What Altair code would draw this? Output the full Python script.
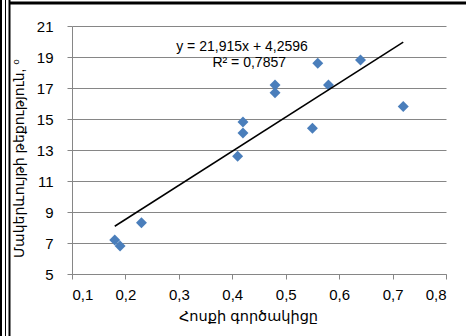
import altair as alt
import pandas as pd

flow_coef = [0.18, 0.19, 0.23, 0.41, 0.42, 0.42, 0.48, 0.48, 0.55, 0.56, 0.58, 0.64, 0.72]
slope_deg = [7.2, 6.8, 8.3, 12.6, 14.1, 14.8, 16.7, 17.2, 14.4, 18.6, 17.2, 18.8, 15.8]
eq_lines = ["y = 21,915x + 4,2596", "R² = 0,7857"]
x_ticks = [0.1, 0.2, 0.3, 0.4, 0.5, 0.6, 0.7, 0.8]
y_ticks = [5, 7, 9, 11, 13, 15, 17, 19, 21]

df = pd.DataFrame({"x": flow_coef, "y": slope_deg})

FONT = "Liberation Sans, Arial, DejaVu Sans"
comma = "replace(format(datum.value, '.1f'), '.', ',')"

xscale = alt.Scale(domain=[0.1, 0.8], nice=False, zero=False)
yscale = alt.Scale(domain=[5, 21], nice=False, zero=False)

xaxis = alt.Axis(values=x_ticks, tickCount=8,
                 labelExpr=comma, grid=False, title="Հոսքի գործակիցը",
                 labelOverlap=False, titleFontSize=14.5,
                 titleX=176, titleAlign="center",
                 titleY=46, titleBaseline="alphabetic")
yaxis = alt.Axis(values=y_ticks, tickCount=9, grid=True,
                 labelOverlap=False, titleFontSize=14,
                 title="Մակերևույթի թեքություն, ⁰", titleX=-46, titleY=132)

xs = alt.X("x:Q", scale=xscale, axis=xaxis)
ys = alt.Y("y:Q", scale=yscale, axis=yaxis)

base = alt.Chart(df)

points = base.mark_point(shape="diamond", filled=True, size=120, color="#4A7EBB",
                         opacity=1).encode(x=xs, y=ys)

trend = base.transform_regression("x", "y", method="linear").mark_line(
    color="black", strokeWidth=1.5).encode(x=xs, y=ys)

eq_df = pd.DataFrame({"t": eq_lines})
eq1 = alt.Chart(eq_df.iloc[[0]]).mark_text(font=FONT, fontSize=14, align="center",
                                          baseline="middle", color="black").encode(
    text="t:N", x=alt.value(170), y=alt.value(21))
eq2 = alt.Chart(eq_df.iloc[[1]]).mark_text(font=FONT, fontSize=14, align="right",
                                          baseline="middle", color="black").encode(
    text="t:N", x=alt.value(214), y=alt.value(37))

# outer frame lines (decorative border of the original figure)
frame_df = pd.DataFrame({"k": [0]})
def vline(xp, w):
    return alt.Chart(frame_df).mark_rule(color="black", strokeWidth=w).encode(
        x=alt.value(xp), y=alt.value(-26), y2=alt.value(320))
def hline(yp, w):
    return alt.Chart(frame_df).mark_rule(color="black", strokeWidth=w).encode(
        x=alt.value(-63), x2=alt.value(400), y=alt.value(yp))

frame = vline(-71, 2) + vline(-66.5, 1) + vline(-62.5, 2) + hline(-23, 3)

chart = alt.layer(points, trend, frame, eq1, eq2).properties(
    width=374, height=248,
    autosize=alt.AutoSizeParams(type="none"),
    padding={"left": 72, "top": 26, "right": 20, "bottom": 62},
    background="white",
).configure_view(stroke=None).configure_axis(
    labelFont=FONT, titleFont=FONT, labelFontSize=15,
    labelColor="black", titleColor="black", titleFontWeight="normal",
    domainColor="#868686", tickColor="#868686", gridColor="#868686",
    tickSize=5, domainWidth=1, gridWidth=1,
).configure_axisY(labelPadding=14).configure_axisX(labelPadding=8)

chart.save("out.html", embed_options={"renderer": "svg", "actions": False})
